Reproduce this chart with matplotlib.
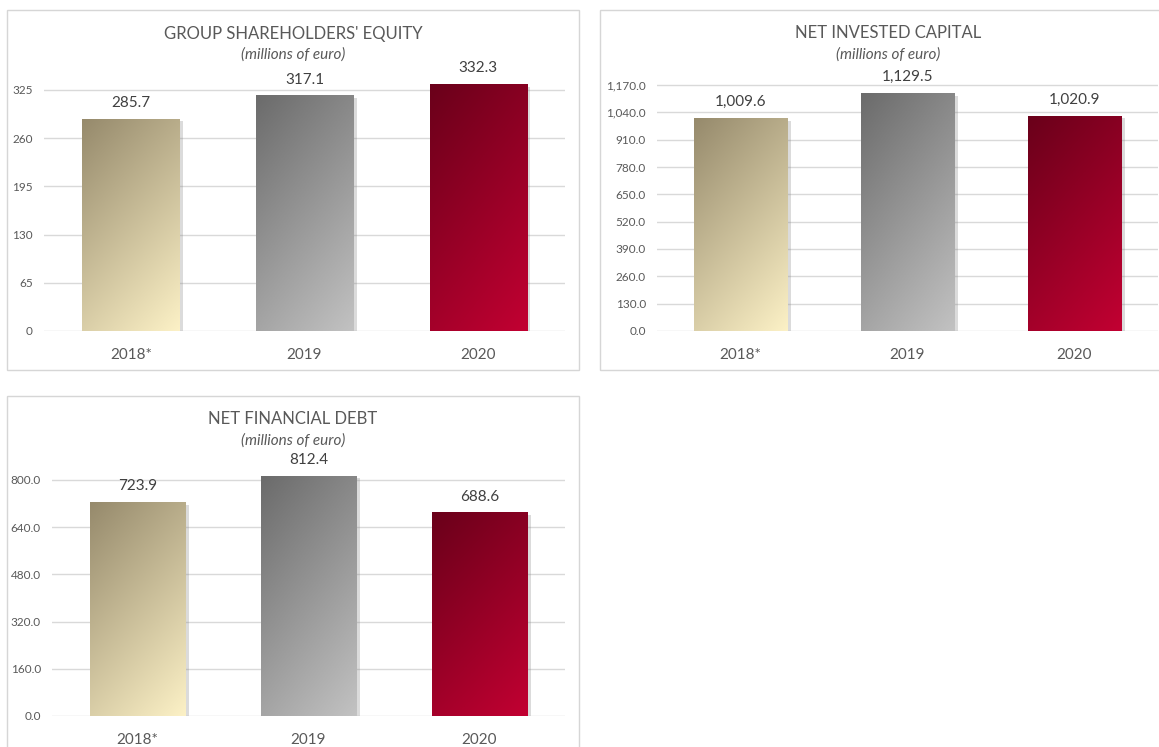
import numpy as np
import matplotlib.pyplot as plt
from matplotlib.patches import Rectangle
from matplotlib.colors import LinearSegmentedColormap
import matplotlib.patheffects as pe

# data
years = ['2018*', '2019', '2020']
equity = [285.7, 317.1, 332.3]
invested = [1009.6, 1129.5, 1020.9]
debt = [723.9, 812.4, 688.6]

equity_ticks = [0, 65, 130, 195, 260, 325]
invested_ticks = [0, 130, 260, 390, 520, 650, 780, 910, 1040, 1170]
debt_ticks = [0, 160, 320, 480, 640, 800]

# gradient colours (top-left -> bottom-right)
grads = [('#968a6c', '#fcf1c6'), ('#6b6b6b', '#c2c2c2'), ('#6a001a', '#c20032')]

W, H = 1159, 747
fig = plt.figure(figsize=(W / 100, H / 100), dpi=100)
plt.rcParams['font.family'] = ['Lato', 'DejaVu Sans']
TXT = '#595959'


def fig_rect(x0, y0, x1, y1):
    return [x0 / W, 1 - y1 / H, (x1 - x0) / W, (y1 - y0) / H]


def panel(box, ax_px, vals, ticks, ymax, title, tick_fmt, val_fmt, cx):
    # outer frame
    bx0, by0, bx1, by1 = box
    fig.patches.append(Rectangle((bx0 / W, 1 - by1 / H), (bx1 - bx0) / W, (by1 - by0) / H,
                                 transform=fig.transFigure, fill=False,
                                 edgecolor='#d6d6d6', lw=1.0))
    ax = fig.add_axes(fig_rect(*ax_px))
    for s in ax.spines.values():
        s.set_visible(False)
    ax.set_yticks(ticks)
    ax.set_yticklabels([tick_fmt(t) for t in ticks], color=TXT, fontsize=8.5)
    ax.tick_params(axis='y', length=0, pad=8)
    ax.set_xticks(range(3))
    ax.set_xticklabels(years, color=TXT, fontsize=11)
    ax.tick_params(axis='x', length=0, pad=12)
    for t in ticks:
        ax.axhline(t, color='#d9d9d9', lw=1, zorder=0)

    # soft shadow to the right of each bar
    bars = ax.bar(range(3), vals, width=0.56, color='none', zorder=2,
                  path_effects=[pe.SimplePatchShadow(offset=(2.5, -1.5), alpha=0.28,
                                                     shadow_rgbFace='#808080')])
    xx, yy = np.meshgrid(np.linspace(0, 1, 60), np.linspace(0, 1, 200))
    for b, (c0, c1), v in zip(bars, grads, vals):
        x0, w = b.get_x(), b.get_width()
        cmap = LinearSegmentedColormap.from_list('g', [c0, c1])
        grad = (xx * 0.5 + yy * 1.0) / 1.5
        ax.imshow(grad, cmap=cmap, extent=(x0, x0 + w, 0, v), aspect='auto',
                  origin='upper', zorder=3, interpolation='bilinear')
        ax.text(x0 + w / 2, v + ymax * 0.035, val_fmt(v), ha='center', va='bottom',
                color='#404040', fontsize=11)
    ax.set_xlim(-0.5, 2.5)
    ax.set_ylim(0, ymax)

    fig.text(cx / W, 1 - (by0 + 23.5) / H, title, ha='center', va='center',
             color=TXT, fontsize=12)
    fig.text(cx / W, 1 - (by0 + 44.5) / H, '(millions of euro)', ha='center', va='center',
             color=TXT, fontsize=11, style='italic')
    return ax


panel((7, 10, 579, 370), (44, 331 - 360 * 241 / 325, 565, 331), equity, equity_ticks, 360,
      "GROUP SHAREHOLDERS' EQUITY", lambda t: f'{t:.0f}', lambda v: f'{v:.1f}', 293)
panel((600, 10, 1170, 370), (657, 331 - 1290 * 246 / 1170, 1158, 331), invested, invested_ticks, 1290,
      'NET INVESTED CAPITAL', lambda t: f'{t:,.1f}', lambda v: f'{v:,.1f}', 888)
panel((7, 396, 579, 760), (52, 716 - 880 * 236 / 800, 565, 716), debt, debt_ticks, 880,
      'NET FINANCIAL DEBT', lambda t: f'{t:,.1f}', lambda v: f'{v:,.1f}', 293)

fig.savefig('out.png', dpi=100, facecolor='white')
